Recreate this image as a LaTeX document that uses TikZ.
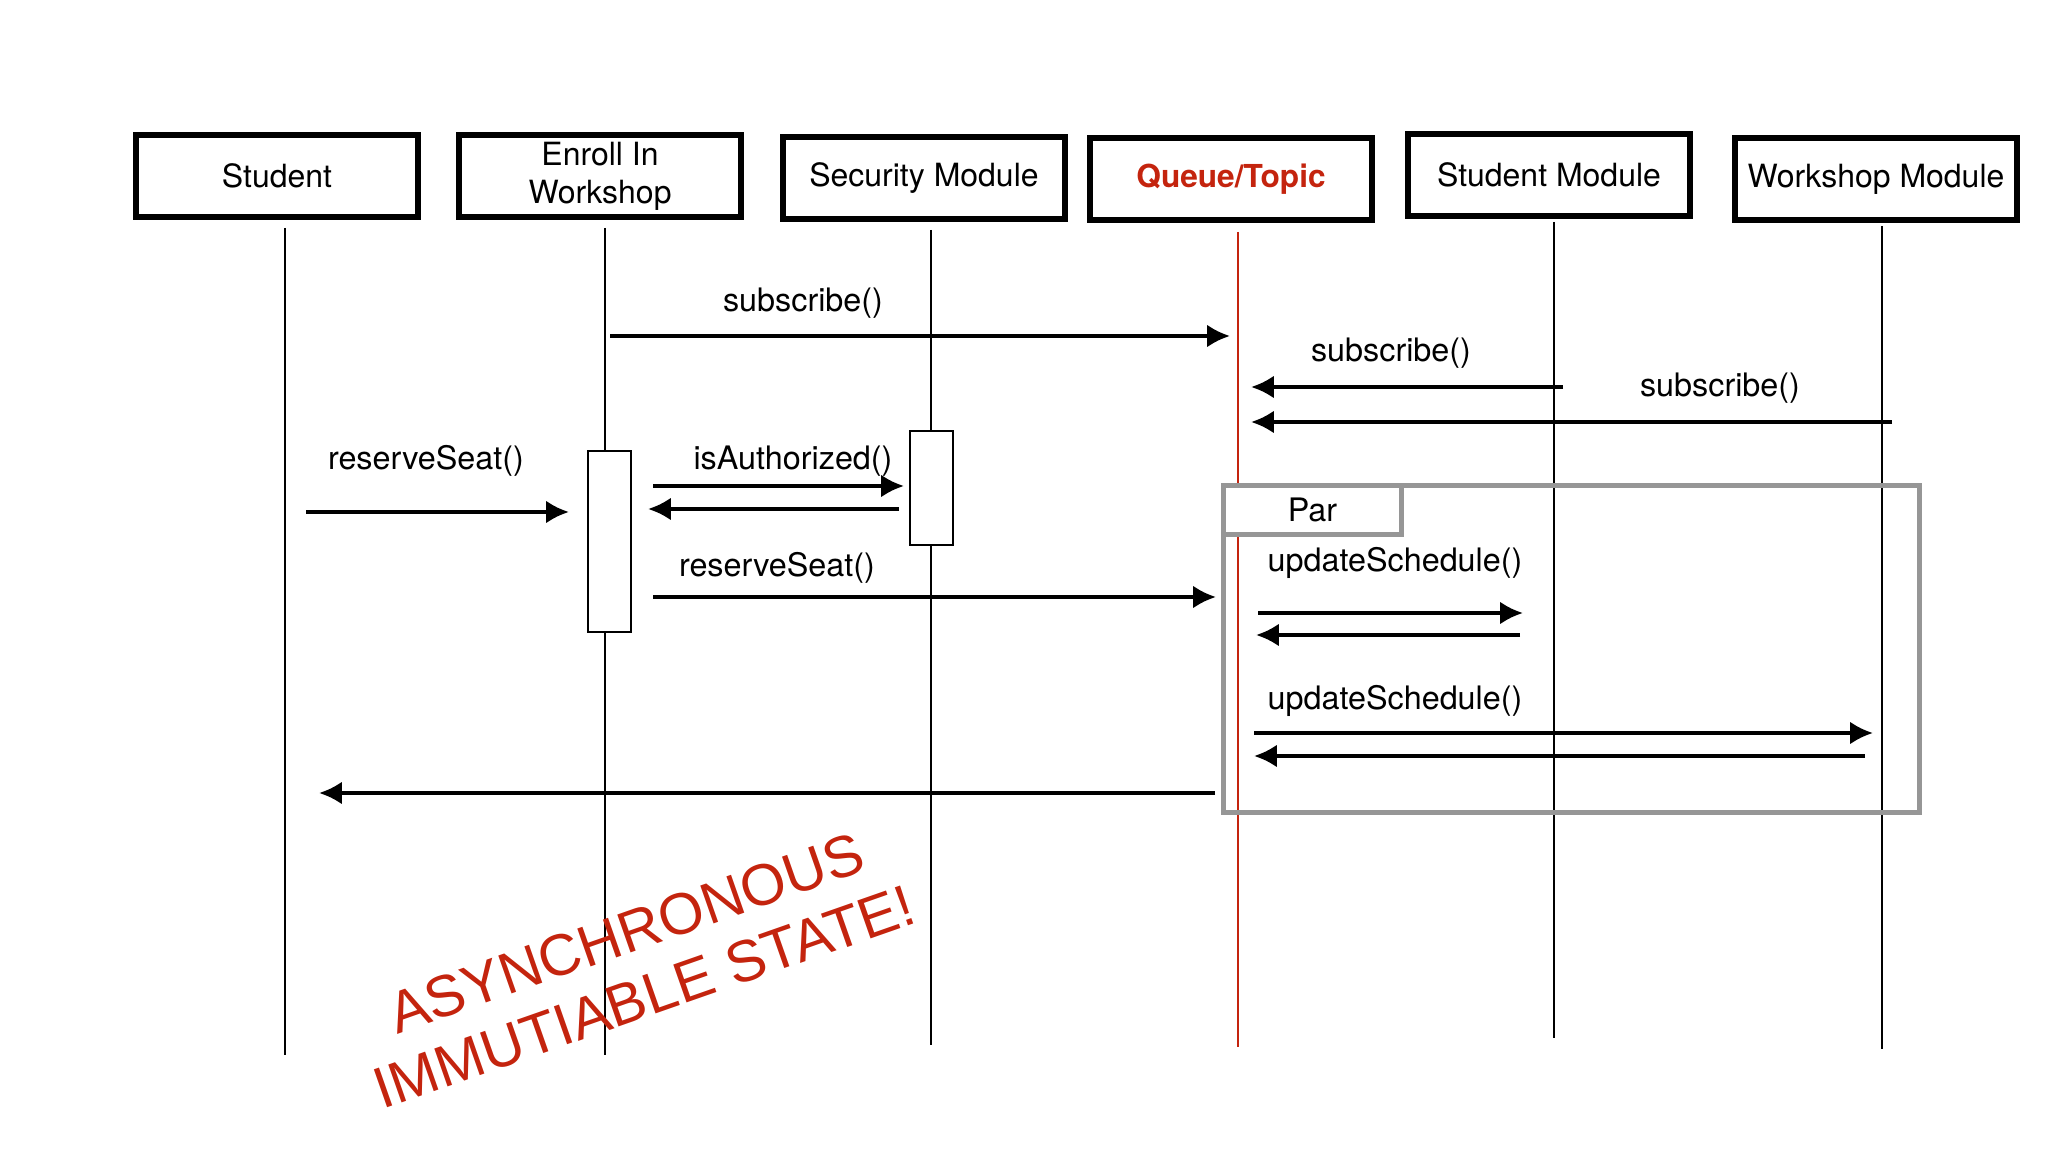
\documentclass[tikz,border=0pt]{standalone}
\usepackage{fontspec}
\setmainfont{TeX Gyre Heros}
\newfontfamily\notefont{Liberation Sans}
\usetikzlibrary{arrows.meta, positioning, calc}

\definecolor{qred}{RGB}{196,36,14}
\definecolor{framegray}{RGB}{150,150,150}

\begin{document}
\begin{tikzpicture}[
    >={Latex[length=6.5pt,width=6.5pt]},
    actor/.style={draw, line width=1.7pt, minimum width=2.82cm,
                  minimum height=0.82cm, align=center, inner sep=1pt,
                  font=\fontsize{9.1}{10.8}\selectfont},
    life/.style={line width=0.75pt},
    msg/.style={->, line width=1.1pt},
    lbl/.style={font=\fontsize{9.2}{11}\selectfont, inner sep=0pt},
    actbox/.style={draw, line width=0.8pt, fill=white,
                   minimum width=0.43cm},
    parframe/.style={draw=framegray, line width=1.4pt},
    note/.style={font=\notefont\fontsize{16.6}{18}\selectfont,
                 text=qred, rotate=19.3, inner sep=0pt}
  ]
  \useasboundingbox (0,0) rectangle (20.48,-11.52);

  % participants
  \node[actor] (student)  at (2.77,-1.76)  {Student};
  \node[actor] (enroll)   at (6.00,-1.76)  {Enroll In\\Workshop};
  \node[actor] (security) at (9.24,-1.78)  {Security Module};
  \node[actor, text=qred, font=\bfseries\fontsize{9}{11}\selectfont]
        (queue)           at (12.31,-1.79) {Queue/Topic};
  \node[actor] (stumod)   at (15.49,-1.75) {Student Module};
  \node[actor] (wsmod)    at (18.76,-1.79) {Workshop Module};

  % lifelines
  \coordinate (tStudent)  at (2.85,-2.28);   \coordinate (bStudent)  at (2.85,-10.55);
  \coordinate (tEnroll)   at (6.05,-2.28);   \coordinate (bEnroll)   at (6.05,-10.55);
  \coordinate (tSecurity) at (9.31,-2.30);   \coordinate (bSecurity) at (9.31,-10.45);
  \coordinate (tQueue)    at (12.38,-2.32);  \coordinate (bQueue)    at (12.38,-10.47);
  \coordinate (tStumod)   at (15.54,-2.22);  \coordinate (bStumod)   at (15.54,-10.38);
  \coordinate (tWsmod)    at (18.82,-2.26);  \coordinate (bWsmod)    at (18.82,-10.49);
  \draw[life] (tStudent) -- (bStudent);
  \draw[life] (tEnroll) -- (bEnroll);
  \draw[life] (tSecurity) -- (bSecurity);
  \draw[life, draw=qred] (tQueue) -- (bQueue);
  \draw[life] (tStumod) -- (bStumod);
  \draw[life] (tWsmod) -- (bWsmod);

  % par fragment
  \node[parframe, minimum width=6.96cm, minimum height=3.27cm,
        anchor=north west] (par) at (12.21,-4.83) {};
  \node[parframe, fill=white, minimum width=1.78cm, minimum height=0.49cm,
        anchor=north west, font=\fontsize{9.2}{11}\selectfont]
        (partab) at (par.north west) {Par};

  % activations
  \node[actbox, minimum height=1.81cm] (actEnroll)   at (6.095,-5.415) {};
  \node[actbox, minimum height=1.14cm] (actSecurity) at (9.315,-4.88)  {};

  % subscriptions
  \coordinate (s1a) at (6.10,-3.36);  \coordinate (s1b) at (12.30,-3.36);
  \coordinate (s2a) at (15.63,-3.87); \coordinate (s2b) at (12.51,-3.87);
  \coordinate (s3a) at (18.92,-4.22); \coordinate (s3b) at (12.51,-4.22);
  \draw[msg] (s1a) -- (s1b);
  \draw[msg] (s2a) -- (s2b);
  \draw[msg] (s3a) -- (s3b);
  \node[lbl] (l1) at (8.03,-3.03) {subscribe()};
  \node[lbl] (l2) at (13.91,-3.53) {subscribe()};
  \node[lbl] (l3) at (17.20,-3.88) {subscribe()};

  % reserve seat
  \coordinate (r1a) at (3.06,-5.12);  \coordinate (r1b) at (5.69,-5.12);
  \draw[msg] (r1a) -- (r1b);
  \node[lbl] (l4) at (4.26,-4.61) {reserveSeat()};

  \coordinate (a1a) at (6.53,-4.86);  \coordinate (a1b) at (9.04,-4.86);
  \coordinate (a2a) at (8.99,-5.09);  \coordinate (a2b) at (6.48,-5.09);
  \draw[msg] (a1a) -- (a1b);
  \draw[msg] (a2a) -- (a2b);
  \node[lbl] (l5) at (7.93,-4.61) {isAuthorized()};

  \coordinate (r2a) at (6.53,-5.97);  \coordinate (r2b) at (12.16,-5.97);
  \draw[msg] (r2a) -- (r2b);
  \node[lbl] (l6) at (7.77,-5.68) {reserveSeat()};

  % parallel updates
  \coordinate (u1a) at (12.58,-6.13); \coordinate (u1b) at (15.23,-6.13);
  \coordinate (u2a) at (15.20,-6.35); \coordinate (u2b) at (12.56,-6.35);
  \draw[msg] (u1a) -- (u1b);
  \draw[msg] (u2a) -- (u2b);
  \node[lbl] (l7) at (13.95,-5.63) {updateSchedule()};

  \coordinate (u3a) at (12.54,-7.33); \coordinate (u3b) at (18.73,-7.33);
  \coordinate (u4a) at (18.65,-7.56); \coordinate (u4b) at (12.54,-7.56);
  \draw[msg] (u3a) -- (u3b);
  \draw[msg] (u4a) -- (u4b);
  \node[lbl] (l8) at (13.95,-7.01) {updateSchedule()};

  % reply to student
  \coordinate (rpa) at (12.15,-7.93); \coordinate (rpb) at (3.19,-7.93);
  \draw[msg] (rpa) -- (rpb);

  % remark
  \node[note] (async) at (6.26,-9.33) {ASYNCHRONOUS};
  \node[note] (immut) at (6.44,-9.97) {IMMUTIABLE STATE!};
\end{tikzpicture}
\end{document}
